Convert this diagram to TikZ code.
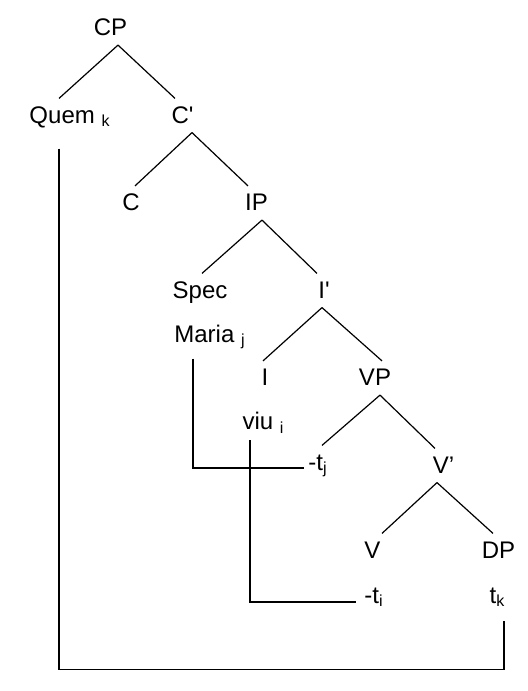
\documentclass[tikz,border=0pt]{standalone}
\usepackage{fontspec}
\setmainfont{Liberation Sans}
\begin{document}
\begin{tikzpicture}[node distance=43.75pt,line width=0.6pt,every node/.style={font=\fontsize{12}{14}\selectfont,inner xsep=0pt,inner ysep=3pt,text height=9pt,text depth=1.5pt}]
  \useasboundingbox (-55.25pt,14pt) rectangle (208.75pt,-331.5pt);
  \node (cp) {CP};
  \node (quem) [below of=cp,xshift=-20.25pt] {Quem \textsubscript{k}};
  \node (cbar) [below of=cp,xshift=36pt] {C\textquotesingle};
  \node (c) [below of=cbar,xshift=-25.75pt] {C};
  \node (ip) [below of=cbar,xshift=37pt] {IP};
  \node (spec) [below of=ip,xshift=-28.25pt] {Spec};
  \node (ibar) [below of=ip,xshift=33.75pt] {I\textquotesingle};
  \node (maria) [node distance=22pt,below of=spec,xshift=5pt] {Maria \textsubscript{j}};
  \node (i) [below of=ibar,xshift=-29.5pt] {I};
  \node (vp) [below of=ibar,xshift=25.5pt] {VP};
  \node (viu) [node distance=22pt,below of=i,xshift=-0.75pt] {viu \textsubscript{i}};
  \node (tj) [below of=vp,xshift=-28.5pt,yshift=1.5pt] {-t\textsubscript{j}};
  \node (vbar) [below of=vp,xshift=34.25pt] {V'};
  \node (v) [below of=vbar,xshift=-35.5pt,yshift=1.25pt] {V};
  \node (dp) [below of=vbar,xshift=27.5pt,yshift=1.25pt] {DP};
  \node (ti) [node distance=22.5pt,below of=v,xshift=0.75pt] {-t\textsubscript{i}};
  \node (tk) [node distance=22.5pt,below of=dp,xshift=-0.5pt] {t\textsubscript{k}};
  % branches
  \draw ([xshift=3.75pt]cp.south) -- ([xshift=-5.5pt]quem.north);
  \draw ([xshift=3.75pt]cp.south) -- ([xshift=-3.75pt]cbar.north);
  \draw ([xshift=4.75pt]cbar.south) -- ([xshift=2pt]c.north);
  \draw ([xshift=4.75pt]cbar.south) -- ([xshift=-4.25pt]ip.north);
  \draw ([xshift=2.75pt]ip.south) -- ([xshift=1pt]spec.north);
  \draw ([xshift=2.75pt]ip.south) -- ([xshift=-3.5pt]ibar.north);
  \draw ([xshift=-1pt]ibar.south) -- ([xshift=-1pt]i.north);
  \draw ([xshift=-1pt]ibar.south) -- ([xshift=3.5pt]vp.north);
  \draw ([xshift=2.5pt]vp.south) -- ([xshift=2pt]tj.north);
  \draw ([xshift=2.5pt]vp.south) -- ([xshift=-4.25pt]vbar.north);
  \draw ([xshift=-3.25pt]vbar.south) -- ([xshift=4.75pt]v.north);
  \draw ([xshift=-3.25pt]vbar.south) -- ([xshift=-2.75pt]dp.north);
  % movement
  \draw ([shift={(-8.5pt,-3.5pt)}]maria.south) |- ([shift={(-2pt,-2.75pt)}]tj.west);
  \draw ([shift={(-6.75pt,-0.5pt)}]viu.south) |- ([shift={(-4pt,-3.25pt)}]ti.west);
  \draw ([shift={(-5.5pt,-8pt)}]quem.south) -- ++(0,-260.5pt) -| ([shift={(3.25pt,-4pt)}]tk.south);
\end{tikzpicture}
\end{document}
